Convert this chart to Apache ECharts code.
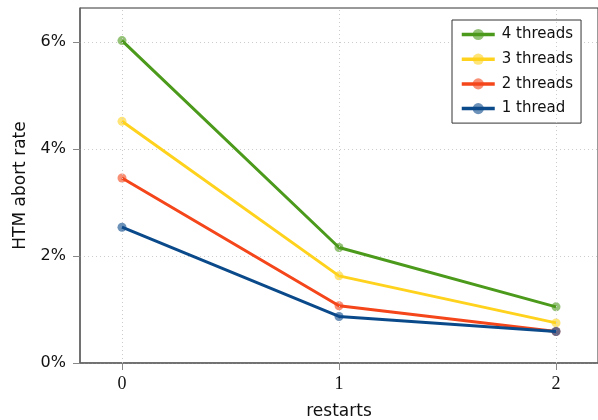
<!DOCTYPE html>
<html>
<head>
<meta charset="utf-8">
<script src="https://cdn.jsdelivr.net/npm/echarts@6/dist/echarts.min.js"></script>
<style>html,body{margin:0;padding:0;background:#fff}#c{width:598px;height:420px}</style>
</head>
<body>
<div id="c"></div>
<script>
const restarts = [0, 1, 2];
const seriesNames = ['4 threads', '3 threads', '2 threads', '1 thread'];
const threads4 = [6.03, 2.16, 1.05];
const threads3 = [4.52, 1.63, 0.75];
const threads2 = [3.46, 1.07, 0.59];
const thread1 = [2.54, 0.87, 0.59];
const yTicks = [0, 2, 4, 6];
const xTicks = [0, 1, 2];
const colors = ['#4c9a1c', '#ffd21e', '#f4461a', '#0b4a8a'];

const allValues = [threads4, threads3, threads2, thread1];
const chart = echarts.init(document.getElementById('c'), null, {renderer: 'canvas'});
const sans = 'DejaVu Sans';
const serif = 'Liberation Serif';

const series = allValues.map((vals, i) => ({
  name: seriesNames[i],
  type: 'line',
  data: restarts.map((x, j) => [x, vals[j]]),
  color: colors[i],
  lineStyle: {width: 3, color: colors[i]},
  symbol: 'circle',
  symbolSize: 9,
  itemStyle: {color: colors[i], opacity: 0.6},
  emphasis: {disabled: true},
  z: 2 + i
}));

chart.setOption({
  animation: false,
  backgroundColor: '#fff',
  grid: {left: 80, top: 8, right: 0, bottom: 57, show: true, borderColor: '#333', borderWidth: 1, containLabel: false, outerBoundsMode: 'none'},
  legend: {
    data: seriesNames,
    orient: 'vertical',
    left: 452, top: 20,
    padding: [7, 8, 7, 8],
    itemWidth: 33, itemHeight: 14, itemGap: 9.7,
    borderColor: '#333', borderWidth: 1,
    backgroundColor: '#fff',
    lineStyle: {width: 3.5},
    itemStyle: {opacity: 0.6},
    textStyle: {fontFamily: sans, fontSize: 15, color: '#111', padding: [0, 0, 0, 2]}
  },
  xAxis: {
    type: 'value',
    min: -0.1935, max: 2.1935,
    name: 'restarts', nameLocation: 'middle', nameGap: 40,
    nameTextStyle: {fontFamily: sans, fontSize: 17, color: '#111'},
    axisLine: {show: true, onZero: false, lineStyle: {color: '#666', width: 1.5}},
    axisTick: {show: true, length: 7, lineStyle: {color: '#888'}, customValues: xTicks},
    axisLabel: {fontFamily: serif, fontSize: 18, color: '#111', margin: 12, customValues: xTicks, formatter: v => String(Math.round(v))},
    splitLine: {show: false}
  },
  yAxis: {
    type: 'value',
    min: 0, max: 6.64, interval: 2,
    name: 'HTM abort rate', nameLocation: 'middle', nameGap: 51, nameRotate: 90,
    nameTextStyle: {fontFamily: sans, fontSize: 17, color: '#111'},
    axisLine: {show: true, onZero: false, lineStyle: {color: '#666', width: 1.5}},
    axisTick: {show: true, length: 7, lineStyle: {color: '#888'}, customValues: yTicks},
    axisLabel: {fontFamily: sans, fontSize: 16, color: '#111', margin: 14, customValues: yTicks, formatter: v => Math.round(v) + '%'},
    splitLine: {show: true, lineStyle: {color: '#ccc', type: [1, 3], width: 1}}
  },
  series: series.concat([{
    type: 'line', data: [], silent: true,
    markLine: {
      silent: true, symbol: 'none', label: {show: false},
      lineStyle: {color: '#ccc', type: [1, 3], width: 1},
      data: xTicks.map(x => ({xAxis: x}))
    },
    z: 1
  }])
});
</script>
</body>
</html>
